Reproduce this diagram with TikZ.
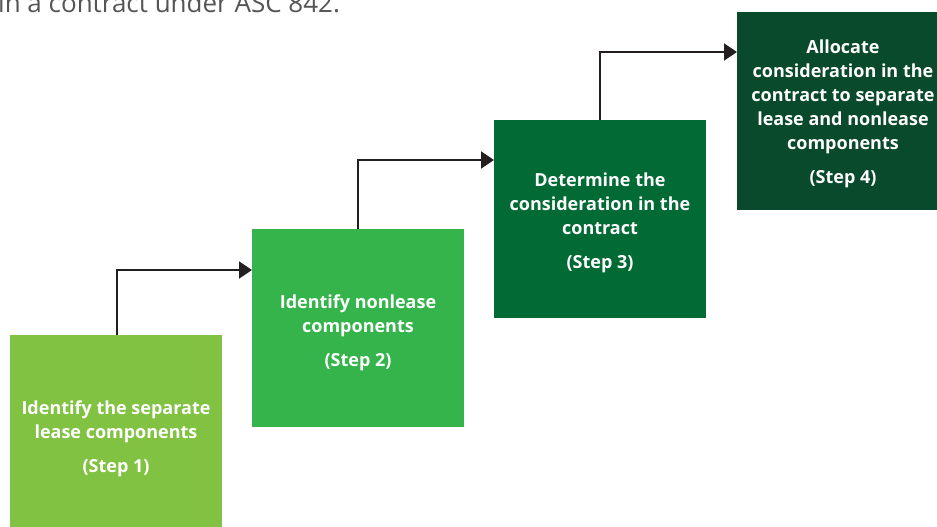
\documentclass[tikz,border=0pt]{standalone}
\usepackage{fontspec}
\setmainfont{Open Sans}
\usetikzlibrary{arrows.meta}
\definecolor{gA}{RGB}{129,194,66}
\definecolor{gB}{RGB}{52,180,74}
\definecolor{gC}{RGB}{2,106,52}
\definecolor{gD}{RGB}{10,74,44}
\definecolor{arr}{RGB}{35,31,32}
\definecolor{txtgray}{RGB}{85,85,85}
\tikzset{
  stepbox/.style={rectangle, draw=none, minimum width=212pt, minimum height=198pt, anchor=north west, inner sep=0pt},
  steptext/.style={text=white, align=center, anchor=north, inner sep=0pt, font=\bfseries\fontsize{18}{24}\selectfont},
  flow/.style={draw=arr, line width=2pt, -{Triangle[length=13pt,width=17pt]}},
}
\begin{document}
\begin{tikzpicture}[x=1pt,y=-1pt]
\useasboundingbox (0,0) rectangle (937,527);
\clip (0,0) rectangle (937,527);
\fill[white] (0,0) rectangle (937,527);
\node[anchor=base west, inner sep=0pt, text=txtgray, font=\fontsize{26}{30}\selectfont] (intro) at (-2,13) {in a contract under ASC 842.};
\node[stepbox, fill=gA] (b1) at (10,335) {};
\node[stepbox, fill=gB] (b2) at (252,229) {};
\node[stepbox, fill=gC] (b3) at (494,120) {};
\node[stepbox, fill=gD] (b4) at (737,12) {};
\node[steptext] (t1) at (116,401) {Identify the separate\\lease components\\[10pt](Step 1)};
\node[steptext] (t2) at (358,295) {Identify nonlease\\components\\[10pt](Step 2)};
\node[steptext] (t3) at (600,173) {Determine the\\consideration in the\\contract\\[10pt](Step 3)};
\node[steptext] (t4) at (843,40) {Allocate\\consideration in the\\contract to separate\\lease and nonlease\\components\\[10pt](Step 4)};
\draw[flow] ([xshift=1pt]b1.north) |- ([yshift=-41pt]b2.north west);
\draw[flow] (b2.north) |- ([yshift=-40pt]b3.north west);
\draw[flow] (b3.north) |- ([yshift=-40pt]b4.north west);
\end{tikzpicture}
\end{document}
